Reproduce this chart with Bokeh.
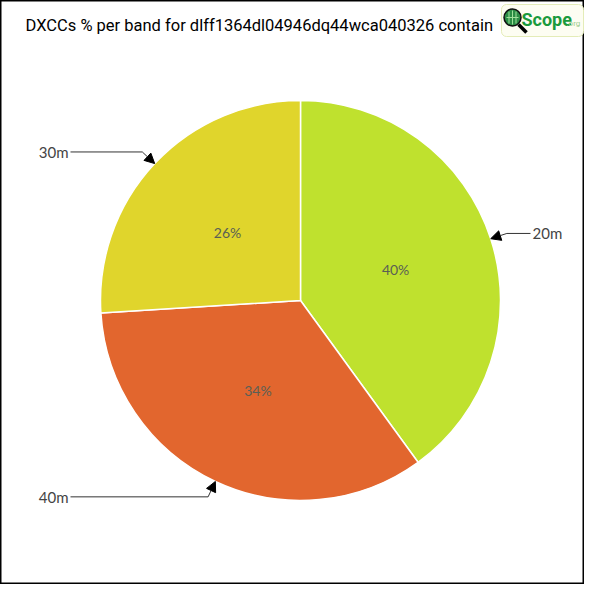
import numpy as np
from bokeh.plotting import figure
from bokeh.models import Range1d, Arrow, NormalHead, ColumnDataSource
from bokeh.core.properties import value
from bokeh.embed import file_html
from bokeh.resources import INLINE

# ---- data ----
bands = ["20m", "40m", "30m"]
percents = [40, 34, 26]
colors = ["#bfe12e", "#e2662e", "#e0d52c"]
title_text = "DXCCs % per band for dlff1364dl04946dq44wca040326 contain"

# ---- figure: data x == picture px, data y == 600 - picture py ----
W = H = 584
p = figure(width=W, height=H, output_backend="svg", toolbar_location=None,
           x_range=Range1d(0, W), y_range=Range1d(600 - H, 600),
           min_border=0)
p.axis.visible = False
p.grid.visible = False
p.outline_line_color = "black"
p.outline_line_width = 2
p.background_fill_color = "white"
p.border_fill_color = "white"

cx, cy, R = 300, 300, 200

vals = np.array(percents, dtype=float)
frac = vals / vals.sum()
c1 = np.cumsum(frac)
c0 = c1 - frac
start = np.deg2rad(90 - 360 * c1)
end = np.deg2rad(90 - 360 * c0)
mid = (start + end) / 2

src = ColumnDataSource(dict(start=start, end=end, color=colors, band=bands,
                            pct=[f"{v:g}%" for v in percents],
                            lx=cx + 0.5 * R * np.cos(mid),
                            ly=cy + 0.5 * R * np.sin(mid)))
p.wedge(x=cx, y=cy, radius=R, start_angle="start", end_angle="end",
        fill_color="color", line_color="white", line_width=1.5, source=src)

p.text(x="lx", y="ly", text="pct", source=src, text_align="center",
       text_baseline="middle", text_font=value("Lato"), text_font_size="14px",
       text_color="#5a5f55")

# callouts
for i, b in enumerate(bands):
    dx, dy = np.cos(mid[i]), np.sin(mid[i])
    tipx, tipy = cx + R * dx, cy + R * dy
    ex, ey = cx + (R + 17) * dx, cy + (R + 17) * dy
    right = dx >= 0
    hx = cx + (R + 30) * (1 if right else -1)
    p.line([hx, ex], [ey, ey], line_color="#333333", line_width=1)
    p.add_layout(Arrow(end=NormalHead(size=10, fill_color="black", line_color="black"),
                       x_start=ex, y_start=ey, x_end=tipx, y_end=tipy,
                       line_color="#333333", line_width=1))
    p.text(x=[hx + (2 if right else -2)], y=[ey], text=[b],
           text_align="left" if right else "right", text_baseline="middle",
           text_font=value("Lato"), text_font_size="15px", text_color="#444444")

# title
p.text(x=[25], y=[600 - 25], text=[title_text], text_align="left",
       text_baseline="middle", text_font=value("Roboto"), text_font_size="16.5px",
       text_color="black")

# logo
p.rect(x=[542], y=[600 - 20], width=82, height=32, fill_color="#fdfdf2",
       line_color="#e4ecb8", line_width=1, border_radius=5)
p.line([518, 526], [600 - 24, 600 - 32], line_color="black", line_width=3.5)
p.scatter(x=[512], y=[600 - 17], size=17, marker="circle", fill_color="#2a8c44",
          line_color="#111111", line_width=1.5)
p.line([506, 518], [600 - 17, 600 - 17], line_color="#9fe09a", line_width=1)
p.line([512, 512], [600 - 10, 600 - 24], line_color="#9fe09a", line_width=1)
p.line([508.5, 508.5], [600 - 11, 600 - 23], line_color="#9fe09a", line_width=1)
p.line([515.5, 515.5], [600 - 11, 600 - 23], line_color="#9fe09a", line_width=1)
p.text(x=[521], y=[600 - 19], text=["Scope"], text_align="left",
       text_baseline="middle", text_font=value("Roboto"), text_font_style="bold",
       text_font_size="18px", text_color="#1a9a3c")
p.text(x=[566], y=[600 - 23], text=[".org"], text_align="left",
       text_baseline="middle", text_font=value("Roboto"), text_font_size="8px",
       text_color="#9ccc8c")

open("out.html", "w").write(file_html(p, INLINE))
